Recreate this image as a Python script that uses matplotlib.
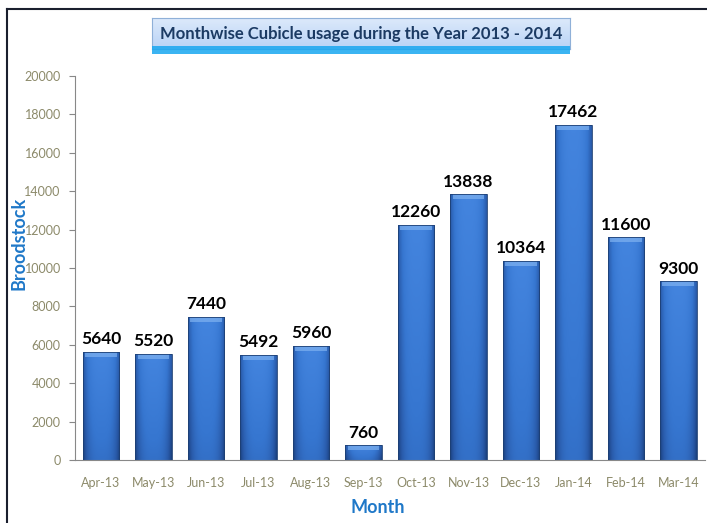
import numpy as np
import matplotlib
matplotlib.use("Agg")
import matplotlib.pyplot as plt
from matplotlib.patches import Rectangle
from matplotlib.colors import LinearSegmentedColormap

months = ["Apr-13", "May-13", "Jun-13", "Jul-13", "Aug-13", "Sep-13",
          "Oct-13", "Nov-13", "Dec-13", "Jan-14", "Feb-14", "Mar-14"]
usage = [5640, 5520, 7440, 5492, 5960, 760,
         12260, 13838, 10364, 17462, 11600, 9300]
y_ticks = [0, 2000, 4000, 6000, 8000, 10000, 12000, 14000, 16000, 18000, 20000]

title_text = "Monthwise Cubicle usage during the Year 2013 - 2014"
x_label = "Month"
y_label = "Broodstock"

plt.rcParams["font.family"] = ["Lato", "DejaVu Sans"]

fig = plt.figure(figsize=(7.07, 5.23), dpi=100)
fig.patch.set_facecolor("white")

ax = fig.add_axes([0.1057, 0.1205, 0.891, 0.734])
ax.set_xlim(-0.5, len(months) - 0.5)
ax.set_ylim(0, 20000)

bar_w = 0.69
bars = ax.bar(range(len(months)), usage, width=bar_w, color="none",
              edgecolor="#1d3f73", linewidth=0.6, zorder=3)

# shaded fill: darker at the sides and bottom, lighter in the middle
xs = np.linspace(-1, 1, 60)
side = 1 - 0.35 * np.abs(xs) ** 3
shade_cmap = LinearSegmentedColormap.from_list(
    "barshade", ["#143468", "#2858a6", "#3676d0", "#4586e0"])
for b, v in zip(bars, usage):
    x0 = b.get_x()
    w = b.get_width()
    ys = np.linspace(0, 1, 80)[:, None]
    vert = 0.78 + 0.2 * ys
    img = side[None, :] * vert
    im = ax.imshow(img, cmap=shade_cmap, vmin=0.45, vmax=1.0,
                   extent=(x0, x0 + w, 0, v), origin="lower",
                   aspect="auto", zorder=2, interpolation="bilinear")
    im.set_clip_path(b)
    # bevelled top edge
    bev = min(260, v * 0.3)
    ax.add_patch(Rectangle((x0 + w * 0.06, v - bev), w * 0.88, bev,
                           facecolor="#7fb2f0", edgecolor="none",
                           alpha=0.7, zorder=2.5))
    ax.text(b.get_x() + w / 2, v + 250, f"{v}", ha="center", va="bottom",
            fontsize=12.5, fontweight="bold", color="black", zorder=4)

ax.set_xticks(range(len(months)))
ax.set_xticklabels(months)
ax.set_yticks(y_ticks)
ax.set_yticklabels([str(t) for t in y_ticks])
ax.tick_params(axis="x", length=0, pad=12, labelsize=9, labelcolor="#8c8a6a")
ax.tick_params(axis="y", length=4, width=0.8, color="#888888",
               pad=6, labelsize=9, labelcolor="#8c8a6a")

for s in ["top", "right"]:
    ax.spines[s].set_visible(False)
ax.spines["left"].set_color("#888888")
ax.spines["bottom"].set_color("#888888")
ax.spines["left"].set_linewidth(0.8)
ax.spines["bottom"].set_linewidth(0.8)
ax.set_facecolor("white")

fig.text(0.534, 0.030, x_label, ha="center", va="center", fontsize=13,
         fontweight="bold", color="#1f78c8")
fig.text(0.027, 0.535, y_label, ha="center", va="center", rotation=90,
         fontsize=13, fontweight="bold", color="#1f78c8")

# title banner with a blue glow underneath
fig.patches.append(Rectangle((152 / 707, 1 - 54 / 523), 418 / 707, 8 / 523,
                             transform=fig.transFigure, facecolor="#19a7f0",
                             edgecolor="none", alpha=0.85))
tb = np.linspace(0, 1, 40)[:, None] * np.ones((1, 10))
tax = fig.add_axes([152 / 707, 1 - 49 / 523, 418 / 707, 31 / 523])
tax.imshow(tb, cmap=LinearSegmentedColormap.from_list(
    "banner", ["#b9d3f6", "#ddeafb"]), aspect="auto", origin="lower",
    extent=(0, 1, 0, 1))
tax.set_xticks([])
tax.set_yticks([])
for s in tax.spines.values():
    s.set_color("#8fb0d8")
    s.set_linewidth(0.8)
tax.text(0.5, 0.5, title_text, ha="center", va="center", fontsize=12,
         fontweight="bold", color="#1b3a63", transform=tax.transAxes)

# frame lines along the left and top edges
fig.lines.append(plt.Line2D([7 / 707, 7 / 707], [0, 1 - 9 / 523],
                            transform=fig.transFigure, color="#1a1f2e", lw=1.5))
fig.lines.append(plt.Line2D([7 / 707, 1], [1 - 9 / 523, 1 - 9 / 523],
                            transform=fig.transFigure, color="#1a1f2e", lw=1.5))

fig.savefig("out.png", dpi=100, facecolor="white")
